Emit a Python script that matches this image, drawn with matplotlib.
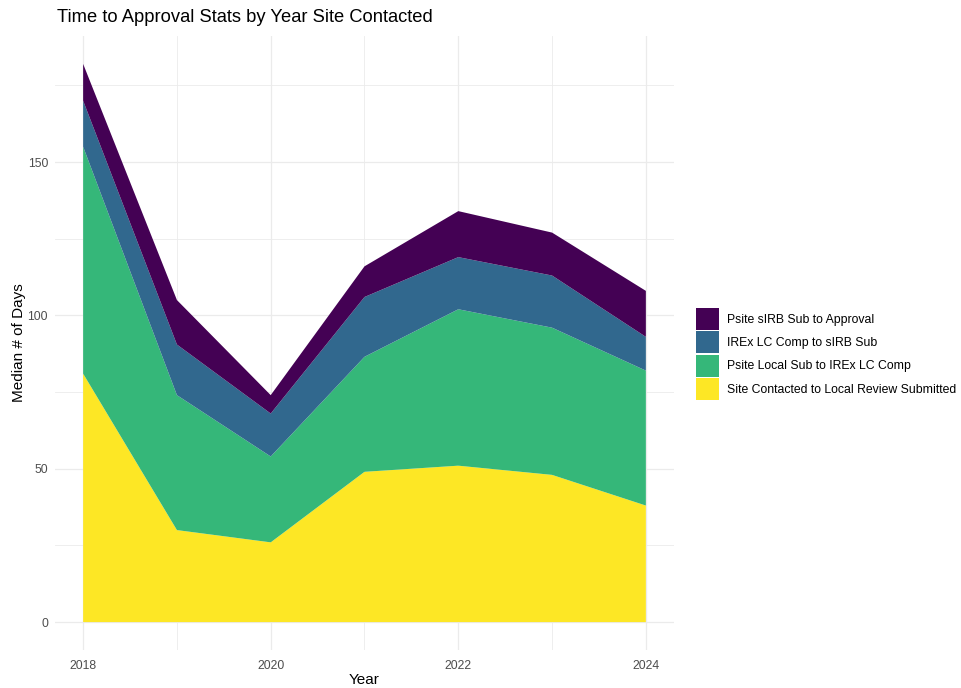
import matplotlib
matplotlib.use("Agg")
import matplotlib.pyplot as plt
from matplotlib.patches import Patch
import numpy as np

plt.rcParams['font.family'] = ['Liberation Sans', 'DejaVu Sans']

years = [2018, 2019, 2020, 2021, 2022, 2023, 2024]
site_contacted = [81, 30, 26, 49, 51, 48, 38]
psite_local = [74, 44, 28, 37.5, 51, 48, 44]
irex_lc = [15, 16.5, 14, 19.5, 17, 17, 11]
psite_sirb = [12, 14.5, 6, 10, 15, 14, 15]

labels = ["Site Contacted to Local Review Submitted",
          "Psite Local Sub to IREx LC Comp",
          "IREx LC Comp to sIRB Sub",
          "Psite sIRB Sub to Approval"]
colors = ["#FDE725", "#35B779", "#31688E", "#440154"]

fig = plt.figure(figsize=(9.61, 6.88), dpi=100)
ax = fig.add_axes([55/961, 1-650/688, (674-55)/961, (650-36)/688])

series = [site_contacted, psite_local, irex_lc, psite_sirb]
ax.stackplot(years, *series, colors=colors, linewidth=0, zorder=2)

total = np.sum(np.array(series), axis=0)
ymax = total.max()
ax.set_xlim(2018 - 0.3, 2024 + 0.3)
ax.set_ylim(-0.05 * ymax, ymax * 1.05)

ax.set_xticks([2018, 2020, 2022, 2024])
ax.set_xticks([2019, 2021, 2023], minor=True)
ax.set_yticks([0, 50, 100, 150])
ax.set_yticks([25, 75, 125, 175], minor=True)
ax.grid(which='major', color='#EBEBEB', linewidth=0.9, zorder=0)
ax.grid(which='minor', color='#EBEBEB', linewidth=0.6, zorder=0)
ax.set_axisbelow(True)
for s in ax.spines.values():
    s.set_visible(False)
ax.tick_params(which='both', length=0, labelsize=8.8, labelcolor='#4D4D4D')
ax.tick_params(axis='x', pad=7)
ax.tick_params(axis='y', pad=5)

ax.set_xlabel("Year", fontsize=11, labelpad=1)
ax.set_ylabel("Median # of Days", fontsize=11, labelpad=1)
fig.text(57/961, 1-18/688, "Time to Approval Stats by Year Site Contacted",
         fontsize=13.2, ha='left', va='center')

handles = [Patch(facecolor=c, edgecolor='none') for c in colors[::-1]]
leg = fig.legend(handles, labels[::-1], loc='center left',
                 bbox_to_anchor=(696/961, 1-354/688), frameon=False,
                 fontsize=8.8, handlelength=1.9, handleheight=2.4,
                 labelspacing=0.1, handletextpad=0.65, borderpad=0,
                 borderaxespad=0)

fig.savefig("out.png", dpi=100)
